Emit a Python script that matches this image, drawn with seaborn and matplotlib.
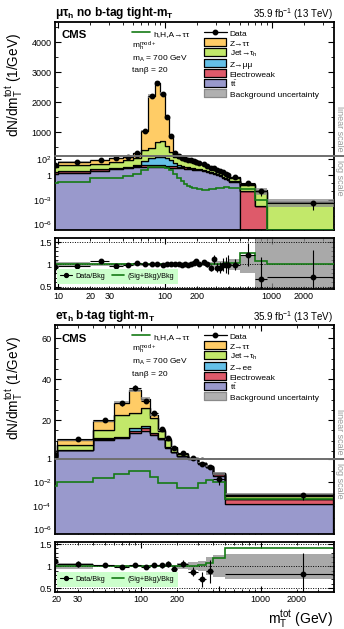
import numpy as np
import pandas as pd
import matplotlib
matplotlib.use("Agg")
import matplotlib.pyplot as plt
import seaborn as sns
from matplotlib.lines import Line2D
from matplotlib.path import Path
from matplotlib.ticker import FixedLocator, FuncFormatter, LogLocator, MultipleLocator, NullFormatter

# ---------------------------------------------------------------- data
# mu-tau_h, no b-tag, tight-mT  (dN/dm in 1/GeV)
mt_edges_mutau = [8.4, 10, 20, 30, 40, 50, 60, 70, 80, 90, 100, 110, 120, 130, 140, 150, 160,
                  170, 180, 190, 200, 220, 240, 260, 280, 300, 320, 340, 360, 380, 400, 500,
                  700, 900, 4000]
ztt_mutau = [10.4, 26.7, 37, 72.3, 106.8, 200.7, 660, 1720, 1973, 1590, 950, 517.5, 143.5, 84.5,
             58.5, 40.8, 29.6, 20.8, 14.2, 10.1, 8.4, 5.1, 2.95, 1.92, 1.18, 0.79, 0.58, 0.39,
             0.27, 0.2, 0.12, 0.028, 0.00704, 9e-5]
jet_mutau = [7, 13.5, 20, 35, 59, 92, 345, 364, 521, 554, 436, 290, 150, 95, 70, 53, 42, 33, 25,
             19.5, 16, 10.5, 6.8, 4.7, 3.1, 2.1, 1.5, 1.05, 0.75, 0.55, 0.3, 0.05, 0.0075, 5e-4]
zll_mutau = [0.1, 0.2, 0.3, 0.5, 1, 5, 40, 100, 130, 130, 100, 60, 20, 8, 3, 1.5, 1, 0.6, 0.4,
             0.3, 0.2, 0.1, 0.05, 0.03, 0.02, 0.01, 0.008, 0.005, 0.004, 0.003, 0.002, 0, 0, 0]
ew_mutau = [1.3, 1.7, 1.8, 1.8, 3, 4, 5, 6, 6, 6, 5, 4.5, 4, 3.5, 3, 2.7, 2.4, 2.1, 1.9, 1.6,
            1.4, 1.1, 0.8, 0.55, 0.4, 0.3, 0.22, 0.16, 0.12, 0.09, 0.05, 0.012, 1.6e-4, 0]
tt_mutau = [1.2, 1.6, 3.3, 5, 7, 9, 10, 10, 10, 10, 9, 8, 7.5, 7, 6.5, 6, 5.5, 5, 4.5, 4, 4,
            3.2, 2.4, 1.8, 1.3, 1.0, 0.7, 0.5, 0.36, 0.26, 0.13, 0, 0, 0]
data_mutau = [19, 42, 68, 110, 175, 320, 1060, 2220, 2650, 2280, 1510, 890, 330, 200, 140, 105,
              80, 62, 48, 38, 30, 21, 13, 8.3, 6.7, 3.9, 2.8, 2.1, 1.5, 1.1, 0.6, 0.11, 0.01,
              4.2e-4]
sig_mutau = [0.1, 0.15, 0.4, 0.45, 0.75, 1.3, 4, 8.7, 8.7, 8.7, 7, 4, 1.3, 0.5, 0.2, 0.08, 0.05,
             0.04, 0.03, 0.03, 0.02, 0.015, 0.015, 0.018, 0.02, 0.025, 0.03, 0.03, 0.035, 0.035,
             0.024, 0.023, 0.001, 2e-7]
unc_mutau = [0.08, 0.06, 0.04, 0.03, 0.03, 0.03, 0.03, 0.03, 0.03, 0.03, 0.03, 0.03, 0.03, 0.03,
             0.03, 0.03, 0.03, 0.03, 0.03, 0.03, 0.04, 0.04, 0.04, 0.05, 0.05, 0.08, 0.08, 0.08,
             0.08, 0.08, 0.12, 0.2, 0.75, 0.8]

# e-tau_h, b-tag, tight-mT
mt_edges_etau = [18.2, 20, 40, 60, 80, 100, 120, 140, 160, 180, 200, 250, 300, 350, 400, 500, 4000]
ztt_etau = [0.58, 2.4, 4.6, 5.8, 11.2, 4.5, 1.6, 0.7, 0.5, 0.27, 0.16, 0.05, 0.01, 0.006, 0.002, 3.5e-4]
jet_etau = [0.5, 2.3, 3.9, 10.8, 7.6, 8.6, 7.2, 3.4, 3.4, 2.0, 0.8, 0.27, 0.07, 0.032, 0.005, 3e-4]
zll_etau = [0.02, 0.1, 0.2, 0.3, 1.2, 1.1, 0.3, 0.1, 0.05, 0.03, 0.02, 0.01, 0, 0, 0, 0]
ew_etau = [0.08, 0.3, 0.6, 0.5, 1.3, 1.2, 0.8, 0.4, 0.35, 0.2, 0.12, 0.05, 0.02, 0.012, 0.02, 2.3e-4]
tt_etau = [1.5, 5.2, 10.3, 11.1, 13.5, 14.8, 12.7, 10.6, 6.4, 4.2, 2.5, 1.1, 0.4, 0.2, 0.035, 1.3e-4]
data_etau = [3.0, 10.8, 20, 28.2, 35.8, 29.3, 23.3, 15.5, 11.2, 6.2, 3.8, 1.3, 0.35, 0.22, 0.02, 8.3e-4]
sig_etau = [0.005, 0.01, 0.025, 0.052, 0.1, 0.1, 0.031, 0.0084, 0.0084, 0.0084, 0.0031, 0.0031,
            0.0084, 0.015, 0.011, 4.1e-4]
unc_etau = [0.06, 0.06, 0.03, 0.03, 0.03, 0.03, 0.03, 0.03, 0.03, 0.03, 0.07, 0.09, 0.12, 0.2, 0.25, 0.28]

xlabels_mutau = [10, 20, 30, 100, 200, 1000, 2000]
xlabels_etau = [20, 30, 100, 200, 1000, 2000]

PROCS = ["Ztt", "Jet", "Zll", "EW", "tt"]          # top of stack first
PALETTE = {"Ztt": "#ffcc66", "Jet": "#c2e86a", "Zll": "#64c0e8", "EW": "#de5a6a", "tt": "#9999cc"}
SIG_COLOR = "#157a15"
UNC_COLOR = "#8c8c8c"

# ---------------------------------------------------------------- style
sns.set_theme(style="ticks")
plt.rcParams.update({
    "font.family": ["Liberation Sans", "DejaVu Sans"],
    "mathtext.fontset": "custom",
    "mathtext.rm": "Liberation Sans",
    "mathtext.it": "Liberation Sans:italic",
    "mathtext.bf": "Liberation Sans:bold",
    "axes.edgecolor": "black",
    "axes.linewidth": 1.3,
    "xtick.color": "black",
    "ytick.color": "black",
    "text.color": "black",
    "axes.labelcolor": "black",
    "axes.facecolor": "white",
})

W, H = 344, 629
fig = plt.figure(figsize=(W / 100, H / 100), dpi=100)
fig.patch.set_facecolor("white")
X0, X1 = 54.5, 334.0


def px_axes(y0, y1):
    return fig.add_axes([X0 / W, 1 - y1 / H, (X1 - X0) / W, (y1 - y0) / H])


def draw_stack(ax, edges, comps):
    centers = 0.5 * (edges[:-1] + edges[1:])
    frame = pd.concat([pd.DataFrame({"mt": centers, "density": vals, "process": name})
                       for name, vals in zip(PROCS, comps)], ignore_index=True)
    sns.histplot(data=frame, x="mt", weights="density", hue="process", hue_order=PROCS,
                 palette=PALETTE, multiple="stack", bins=[float(e) for e in edges],
                 element="step", fill=True, alpha=1, edgecolor="black", linewidth=0.9,
                 legend=False, ax=ax)
    ax.set_xlabel("")
    ax.set_ylabel("")


def log_x_ticks(ax, labels, show):
    ax.xaxis.set_major_locator(LogLocator(base=10, numticks=10))
    ax.xaxis.set_minor_locator(LogLocator(base=10, subs=np.arange(2, 10), numticks=100))
    lab = set(labels)

    def fmt(v, pos):
        r = int(round(v))
        return str(r) if (show and r in lab and abs(v - r) < 1e-6 * max(v, 1)) else ""
    ax.xaxis.set_major_formatter(FuncFormatter(fmt))
    ax.xaxis.set_minor_formatter(FuncFormatter(fmt))


def draw_channel(ch):
    edges = np.asarray(ch["edges"], float)
    centers = 0.5 * (edges[:-1] + edges[1:])
    halfw = 0.5 * (edges[1:] - edges[:-1])
    comps = [np.asarray(c, float) for c in ch["comps"]]
    bkg = np.sum(comps, axis=0)
    data = np.asarray(ch["data"], float)
    sig = np.asarray(ch["sig"], float)
    unc = np.asarray(ch["unc"], float)
    err = np.sqrt(data * 2 * halfw) / (2 * halfw)

    yt, ys, yb, yr0, yr1 = ch["box"]
    ax_lin = px_axes(yt, ys)
    ax_log = px_axes(ys, yb)
    ax_r = px_axes(yr0, yr1)

    for ax in (ax_lin, ax_log):
        draw_stack(ax, edges, comps)
        ax.stairs(bkg * (1 + unc), edges, baseline=bkg * (1 - unc), fill=True,
                  color=UNC_COLOR, alpha=0.75, lw=0, zorder=3)
        ax.stairs(sig, edges, baseline=None, color=SIG_COLOR, lw=1.2, zorder=4)
        ax.errorbar(centers, data, yerr=err, xerr=halfw, fmt="o", ms=3.2, color="black",
                    elinewidth=0.8, capsize=0, zorder=6)
        ax.set_xscale("log")
        ax.set_xlim(*ch["xlim"])
        log_x_ticks(ax, ch["xlabels"], False)

    ax_lin.set_ylim(*ch["lin_ylim"])
    ax_lin.yaxis.set_major_locator(FixedLocator(ch["lin_major"]))
    ax_lin.yaxis.set_minor_locator(MultipleLocator(ch["lin_minor"]))
    ax_lin.spines["bottom"].set_visible(False)

    ax_log.set_yscale("log")
    ax_log.set_ylim(*ch["log_ylim"])
    ax_log.yaxis.set_major_locator(FixedLocator(list(ch["log_labels"].keys())))
    ax_log.yaxis.set_major_formatter(FuncFormatter(
        lambda v, p, d=ch["log_labels"]: next((s for k, s in d.items() if np.isclose(v, k)), "")))
    ax_log.yaxis.set_minor_locator(FixedLocator([10.0 ** k for k in range(-8, 4)]))
    ax_log.yaxis.set_minor_formatter(NullFormatter())
    ax_log.spines["top"].set_visible(False)

    for ax in (ax_lin, ax_log, ax_r):
        ax.tick_params(which="both", direction="in", left=True, right=True, labelsize=6.5,
                       pad=2)
        ax.tick_params(which="major", length=4.5, width=0.8)
        ax.tick_params(which="minor", length=2.3, width=0.6)
    ax_lin.tick_params(axis="x", which="both", bottom=False, top=True, labelbottom=False)
    ax_log.tick_params(axis="x", which="both", bottom=True, top=False, labelbottom=False)

    # ratio panel
    ax_r.set_xscale("log")
    ax_r.stairs(1 + unc, edges, baseline=1 - unc, fill=True, color=UNC_COLOR, alpha=0.75, lw=0)
    for yv in (0.5, 1.0, 1.5):
        ax_r.axhline(yv, color="black", ls=(0, (1, 1.5)), lw=0.7, zorder=1)
    ax_r.stairs((sig + bkg) / bkg, edges, baseline=None, color=SIG_COLOR, lw=1.2, zorder=4)
    ax_r.errorbar(centers, data / bkg, yerr=err / bkg, xerr=halfw, fmt="o", ms=3.2,
                  color="black", elinewidth=0.8, capsize=0, zorder=6)
    ax_r.set_xlim(*ch["xlim"])
    ax_r.set_ylim(*ch["ratio_ylim"])
    log_x_ticks(ax_r, ch["xlabels"], True)
    ax_r.yaxis.set_major_locator(FixedLocator([0.5, 1.0, 1.5]))
    ax_r.yaxis.set_major_formatter(FuncFormatter(lambda v, p: f"{v:g}"))
    ax_r.yaxis.set_minor_locator(MultipleLocator(0.1))
    ax_r.tick_params(axis="x", which="both", top=True, bottom=True, labelsize=6.5, pad=2)

    # ratio legend
    rh = [Line2D([], [], color="black", marker="o", ms=2.8, lw=0.8),
          Line2D([], [], color=SIG_COLOR, lw=1.2)]
    leg = fig.legend(rh, ["Data/Bkg", "(Sig+Bkg)/Bkg"], ncol=2, loc="lower left",
                     bbox_to_anchor=(56.7 / W, 1 - (yr1 - 5.5) / H), fontsize=5.2,
                     frameon=True, fancybox=False, facecolor="#ccffcc", edgecolor="none",
                     framealpha=1, borderpad=0.5, handlelength=1.6, handletextpad=0.5,
                     columnspacing=1.0, borderaxespad=0)
    leg.set_zorder(5)

    # split line and scale annotation
    fig.add_artist(Line2D([X0 / W, 1.0], [1 - ys / H, 1 - ys / H], color="#6e6e6e", lw=1.4,
                          transform=fig.transFigure))
    fig.text(339.5 / W, 1 - (ys - 4) / H, "linear scale", rotation=270, ha="center",
             va="bottom", fontsize=6.5, color="#9a9a9a")
    fig.text(339.5 / W, 1 - (ys + 4) / H, "log scale", rotation=270, ha="center",
             va="top", fontsize=6.5, color="#9a9a9a")

    # titles
    fig.text(55 / W, 1 - (yt - 9) / H, ch["title"], fontsize=8.6, fontweight="bold",
             ha="left", va="center")
    fig.text(333 / W, 1 - (yt - 8) / H, r"35.9 fb$^{-1}$ (13 TeV)", fontsize=7,
             ha="right", va="center")
    fig.text(61 / W, 1 - (yt + 13.5) / H, "CMS", fontsize=8.2, fontweight="bold",
             ha="left", va="center")
    fig.text(14 / W, 1 - (yt + 63) / H, r"dN/dm$_\mathrm{T}^\mathrm{tot}$ (1/GeV)",
             rotation=90, fontsize=9.8, ha="center", va="center")

    # signal entry and model parameters
    fig.legend([Line2D([], [], color=SIG_COLOR, lw=1.2)], [r"h,H,A→ττ"], loc="upper left",
               bbox_to_anchor=(131.5 / W, 1 - (yt + 6.3) / H), frameon=False, fontsize=6,
               handlelength=2.2, handleheight=1.45, handletextpad=0.4, borderpad=0,
               borderaxespad=0)
    for dy, txt in zip((24.7, 37.3, 49.0),
                       (r"m$_\mathrm{h}^\mathrm{mod+}$", r"m$_\mathrm{A}$ = 700 GeV",
                        "tanβ = 20")):
        fig.text(131.5 / W, 1 - (yt + dy) / H, txt, fontsize=6, ha="left", va="center")

    # process legend
    box = Path([(-1.55, -0.5), (1.55, -0.5), (1.55, 0.5), (-1.55, 0.5), (-1.55, -0.5)],
               [Path.MOVETO, Path.LINETO, Path.LINETO, Path.LINETO, Path.CLOSEPOLY])

    def box_handle(fc, ec):
        return Line2D([], [], ls="none", marker=box, ms=16.5, mfc=fc, mec=ec, mew=0.9)

    handles = [Line2D([], [], color="black", marker="o", ms=3.2, lw=0.9)]
    handles += [box_handle(PALETTE[p], "black") for p in PROCS]
    handles += [box_handle("#b0b0b0", "#8a8a8a")]
    labels = ["Data", "Z→ττ", r"Jet→τ$_\mathrm{h}$", ch["zll_label"], "Electroweak",
              r"t$\bar{\mathrm{t}}$", "Background uncertainty"]
    fig.legend(handles, labels, loc="upper left", bbox_to_anchor=(203.5 / W, 1 - (yt + 6.2) / H),
               frameon=False, fontsize=6, handlelength=2.76, handleheight=1.45,
               handletextpad=0.4, labelspacing=0, borderpad=0, borderaxespad=0)


channels = [
    dict(edges=mt_edges_mutau,
         comps=[ztt_mutau, jet_mutau, zll_mutau, ew_mutau, tt_mutau],
         data=data_mutau, sig=sig_mutau, unc=unc_mutau, zll_label="Z→μμ",
         title=r"μτ$_\mathbf{h}$ no b-tag tight-m$_\mathbf{T}$",
         xlim=(9.2, 3840), xlabels=xlabels_mutau,
         lin_ylim=(215, 4670), lin_major=[1000, 2000, 3000, 4000], lin_minor=500,
         log_ylim=(2e-7, 215),
         log_labels={1e2: r"$10^{2}$", 1.0: "1", 1e-3: r"$10^{-3}$", 1e-6: r"$10^{-6}$"},
         ratio_ylim=(0.448, 1.597), box=(22, 156, 230, 238, 289)),
    dict(edges=mt_edges_etau,
         comps=[ztt_etau, jet_etau, zll_etau, ew_etau, tt_etau],
         data=data_etau, sig=sig_etau, unc=unc_etau, zll_label="Z→ee",
         title=r"eτ$_\mathbf{h}$ b-tag tight-m$_\mathbf{T}$",
         xlim=(19.1, 4085), xlabels=xlabels_etau,
         lin_ylim=(1, 66.4), lin_major=[20, 40, 60], lin_minor=5,
         log_ylim=(3.9e-7, 1),
         log_labels={1.0: "1", 1e-2: r"$10^{-2}$", 1e-4: r"$10^{-4}$", 1e-6: r"$10^{-6}$"},
         ratio_ylim=(0.415, 1.546), box=(325, 459, 534, 542, 592)),
]

for ch in channels:
    draw_channel(ch)

fig.text(333 / W, 1 - 619 / H, r"m$_\mathrm{T}^\mathrm{tot}$ (GeV)", fontsize=10,
         ha="right", va="center")

fig.savefig("out.png", dpi=100)
